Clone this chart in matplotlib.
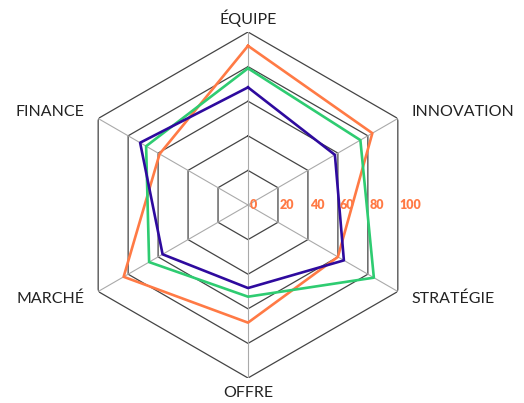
import numpy as np
import matplotlib
matplotlib.use("Agg")
import matplotlib.pyplot as plt

# Axes of the radar (clockwise from top)
categories = ["ÉQUIPE", "INNOVATION", "STRATÉGIE", "OFFRE", "MARCHÉ", "FINANCE"]

# Series values
serie_orange = [92, 83, 60, 68, 83, 59]
serie_verte = [79, 75, 84, 53, 66, 68]
serie_violette = [68, 58, 64, 48, 57, 72]

tick_levels = [0, 20, 40, 60, 80, 100]

plt.rcParams['font.family'] = ['Lato', 'DejaVu Sans']

W, H = 524, 403
fig = plt.figure(figsize=(W / 100, H / 100), dpi=100)

# center of the radar in pixels (from top-left) and outer radius
cx, cy, R = 248, 205, 173
ax = fig.add_axes([(cx - R) / W, (H - cy - R) / H, 2 * R / W, 2 * R / H],
                  projection='polar')
ax.set_theta_offset(np.pi / 2)
ax.set_theta_direction(-1)
ax.set_ylim(0, 100)
ax.grid(False)
ax.set_xticks([])
ax.set_yticks([])
ax.spines['polar'].set_visible(False)
ax.patch.set_alpha(0)

n = len(categories)
angles = np.linspace(0, 2 * np.pi, n, endpoint=False)
closed = np.concatenate([angles, angles[:1]])

# hexagon rings
for lvl in tick_levels[1:]:
    ax.plot(closed, [lvl] * (n + 1), color='#444444', lw=0.9, zorder=1)
# spokes
for a in angles:
    ax.plot([a, a], [0, 100], color='#aaaaaa', lw=0.8, zorder=1)

# series
for vals, col in [(serie_orange, '#ff7a45'),
                  (serie_verte, '#2ecc71'),
                  (serie_violette, '#2e0a9e')]:
    v = list(vals) + [vals[0]]
    ax.plot(closed, v, color=col, lw=1.9, zorder=3)

# tick labels along the horizontal to the right
for lvl in tick_levels:
    ax.annotate(str(lvl), xy=(np.pi / 2, lvl * np.cos(np.pi / 6)),
                xytext=(2, 0), textcoords='offset pixels',
                ha='left', va='center', color='#ff7a45',
                fontsize=9, fontweight='heavy', zorder=4)

# point labels
offsets = [(0, 14, 'center', 'center'),
           (14, 7, 'left', 'center'),
           (14, -7, 'left', 'center'),
           (0, -15, 'center', 'center'),
           (-14, -7, 'right', 'center'),
           (-14, 7, 'right', 'center')]
for a, lab, (dx, dy, ha, va) in zip(angles, categories, offsets):
    ax.annotate(lab, xy=(a, 100), xytext=(dx, dy), textcoords='offset pixels',
                ha=ha, va=va, fontsize=11.5, color='#222222', annotation_clip=False)

fig.savefig("out.png", dpi=100)
